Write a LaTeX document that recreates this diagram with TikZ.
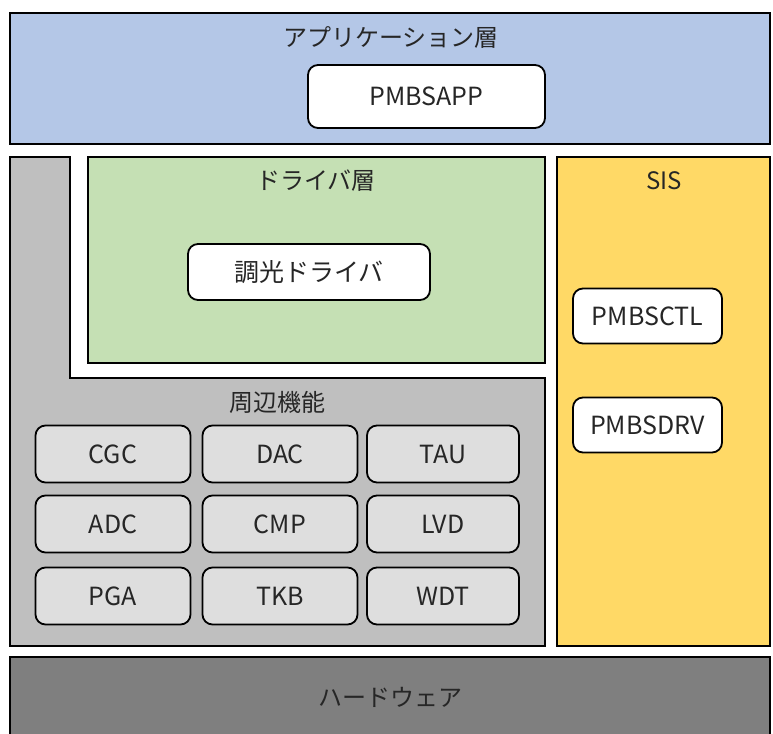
\documentclass[tikz,border=0pt]{standalone}
\usepackage{fontspec}
\setmainfont{Noto Sans CJK JP}
\definecolor{appblue}{HTML}{B4C7E7}
\definecolor{drvgreen}{HTML}{C5E0B4}
\definecolor{perigray}{HTML}{BFBFBF}
\definecolor{sisyellow}{HTML}{FFD966}
\definecolor{hwgray}{HTML}{7F7F7F}
\definecolor{cellgray}{HTML}{DEDEDE}
\definecolor{txt}{HTML}{262626}
\tikzset{
  layer/.style={draw=black, line width=2pt},
  ttl/.style={font=\fontsize{24}{26}\selectfont, text=txt, inner sep=0pt},
  modbox/.style={draw=black, line width=1.8pt, rounded corners=10pt, fill=white,
    font=\fontsize{25}{27}\selectfont, text=txt, inner sep=0pt},
  cell/.style={modbox, fill=cellgray, minimum width=152pt, minimum height=57pt}
}
\begin{document}
\begin{tikzpicture}[x=1pt,y=-1pt]
\useasboundingbox (0,0) rectangle (773,733);
\fill[white] (0,0) rectangle (773,733);
% application layer
\draw[layer, fill=appblue] (10,13) rectangle (770,144);
\node[ttl] (tapp) at (391,37) {アプリケーション層};
\node[modbox, minimum width=237pt, minimum height=63pt] (app) at (426.5,96.5) {PMBSAPP};
% peripheral L-shape
\draw[layer, fill=perigray] (10,157) -- (70,157) -- (70,378) -- (545,378) -- (545,646) -- (10,646) -- cycle;
% driver layer
\draw[layer, fill=drvgreen] (88,157) rectangle (545,363);
\node[ttl] (tdrv) at (316,181) {ドライバ層};
\node[modbox, minimum width=242pt, minimum height=56pt] (dim) at (309,272) {調光ドライバ};
% SIS
\draw[layer, fill=sisyellow] (557,157) rectangle (770,646);
\node[ttl] (tsis) at (664,181) {SIS};
\node[modbox, minimum width=149pt, minimum height=55pt] (ctl) at (647.5,316) {PMBSCTL};
\node[modbox, minimum width=149pt, minimum height=55pt] (drv) at (647.5,425) {PMBSDRV};
% peripherals
\node[ttl] (tperi) at (277,402) {周辺機能};
\node[cell, minimum width=155pt] (cgc) at (113,454) {CGC};
\node[cell, minimum width=155pt] (dac) at (280,454) {DAC};
\node[cell, minimum width=152pt] (tau) at (443,454) {TAU};
\node[cell, minimum width=155pt] (adc) at (113,524) {ADC};
\node[cell, minimum width=155pt] (cmp) at (280,524) {CMP};
\node[cell, minimum width=152pt] (lvd) at (443,524) {LVD};
\node[cell, minimum width=155pt] (pga) at (113,596) {PGA};
\node[cell, minimum width=155pt] (tkb) at (280,596) {TKB};
\node[cell, minimum width=152pt] (wdt) at (443,596) {WDT};
% hardware
\draw[layer, fill=hwgray] (10,740) -- (10,657) -- (770,657) -- (770,740);
\node[ttl] (thw) at (390,697) {ハードウェア};
\end{tikzpicture}
\end{document}
